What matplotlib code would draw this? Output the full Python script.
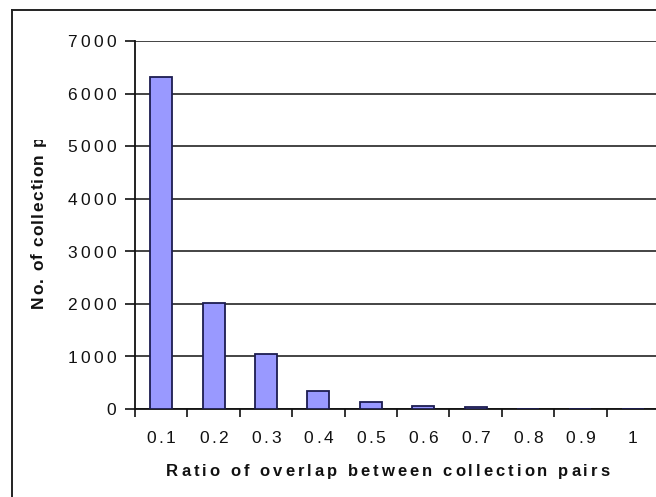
import matplotlib
matplotlib.use("Agg")
import matplotlib.pyplot as plt
from matplotlib.font_manager import FontProperties, findfont
from matplotlib.ft2font import FT2Font
from matplotlib.transforms import IdentityTransform, Bbox
from matplotlib.lines import Line2D

# Data
categories = ["0.1", "0.2", "0.3", "0.4", "0.5", "0.6", "0.7", "0.8", "0.9", "1"]
pair_counts = [6320, 2020, 1050, 350, 130, 65, 30, 0, 0, 0]
y_ticks = [0, 1000, 2000, 3000, 4000, 5000, 6000, 7000]
x_title = "Ratio of overlap between collection pairs"
y_title = "No. of collection pairs"

W, H, DPI = 656, 497, 100
FAMILY = "Liberation Sans"
BAR_FILL = "#9999ff"
BAR_EDGE = "#1c1c50"

fig = plt.figure(figsize=(W / DPI, H / DPI), dpi=DPI)
fig.patch.set_facecolor("white")


def glyph_advances(text, prop):
    font = FT2Font(findfont(prop))
    font.set_size(prop.get_size_in_points(), DPI)
    return [font.load_char(ord(c)).linearHoriAdvance / 65536 for c in text]


def spaced_text(text, x, y, size, weight="normal", tracking=0.0, ha="center",
                vcenter=True, rotation=0, clip=None, color="#111111"):
    """Draw text character by character with extra letter spacing.
    x, y are pixel positions measured from the top-left corner."""
    prop = FontProperties(family=FAMILY, size=size, weight=weight)
    adv = glyph_advances(text, prop)
    total = sum(adv) + tracking * (len(text) - 1)
    em = size * DPI / 72.0
    cap = 0.716 * em
    if ha == "center":
        start = -total / 2
    elif ha == "right":
        start = -total
    else:
        start = 0.0
    dy = H - y
    pos = start
    for c, a in zip(text, adv):
        if rotation == 90:
            px, py = x + (cap / 2 if vcenter else 0), dy + pos
        else:
            px, py = x + pos, dy - (cap / 2 if vcenter else 0)
        t = fig.text(px, py, c, transform=IdentityTransform(), fontproperties=prop,
                     ha="left", va="baseline", rotation=rotation,
                     rotation_mode="anchor", color=color)
        if clip is not None:
            x0, y0, x1, y1 = clip
            t.set_clip_box(Bbox.from_extents(x0, H - y1, x1, H - y0))
        pos += a + tracking


# Plot area (pixel extents)
left, right, top, bottom = 135, 659, 41, 409
ax = fig.add_axes([left / W, (H - bottom) / H, (right - left) / W, (bottom - top) / H])
ax.set_facecolor("white")

xpos = list(range(len(categories)))
ax.bar(xpos, pair_counts, width=0.42, color=BAR_FILL, edgecolor=BAR_EDGE,
       linewidth=1.3, zorder=3)

ax.set_xlim(-0.5, len(categories) - 0.5)
ax.set_ylim(0, 7000)
ax.set_yticks(y_ticks)
ax.set_yticklabels([])
ax.yaxis.grid(True, color="#111111", linewidth=1.1, zorder=1)
ax.set_axisbelow(True)

# Category boundary ticks on the x axis
ax.set_xticks([i - 0.5 for i in range(len(categories) + 1)])
ax.set_xticklabels([])
ax.tick_params(axis="x", direction="out", length=6, width=1.2, color="#111111")
ax.tick_params(axis="y", direction="out", length=7, width=1.2, color="#111111")

for side in ("top", "right"):
    ax.spines[side].set_visible(False)
for side in ("left", "bottom"):
    ax.spines[side].set_color("#111111")
    ax.spines[side].set_linewidth(1.3)

# Tick labels with wide letter spacing
for v in y_ticks:
    ypix = bottom - (bottom - top) * v / 7000
    spaced_text(str(v), 116, ypix, 12.5, tracking=3.3, ha="right")

cat_w = (right - left) / len(categories)
for i, lab in enumerate(categories):
    spaced_text(lab, left + cat_w * (i + 0.5), 437, 12.5, tracking=2.5)

# Axis titles
spaced_text(x_title, 388, 470, 12, weight="bold", tracking=3.0)
spaced_text(y_title, 37, 308, 12.5, weight="bold", tracking=1.2, ha="left",
            rotation=90, clip=(0, 140, 100, 497))

# Outer chart frame
fig.add_artist(Line2D([12 / W, 12 / W], [0, (H - 10) / H], color="#222222",
                      linewidth=1.4, transform=fig.transFigure))
fig.add_artist(Line2D([12 / W, 1.0], [(H - 10) / H, (H - 10) / H], color="#222222",
                      linewidth=1.4, transform=fig.transFigure))

fig.savefig("out.png", dpi=DPI, facecolor="white")
